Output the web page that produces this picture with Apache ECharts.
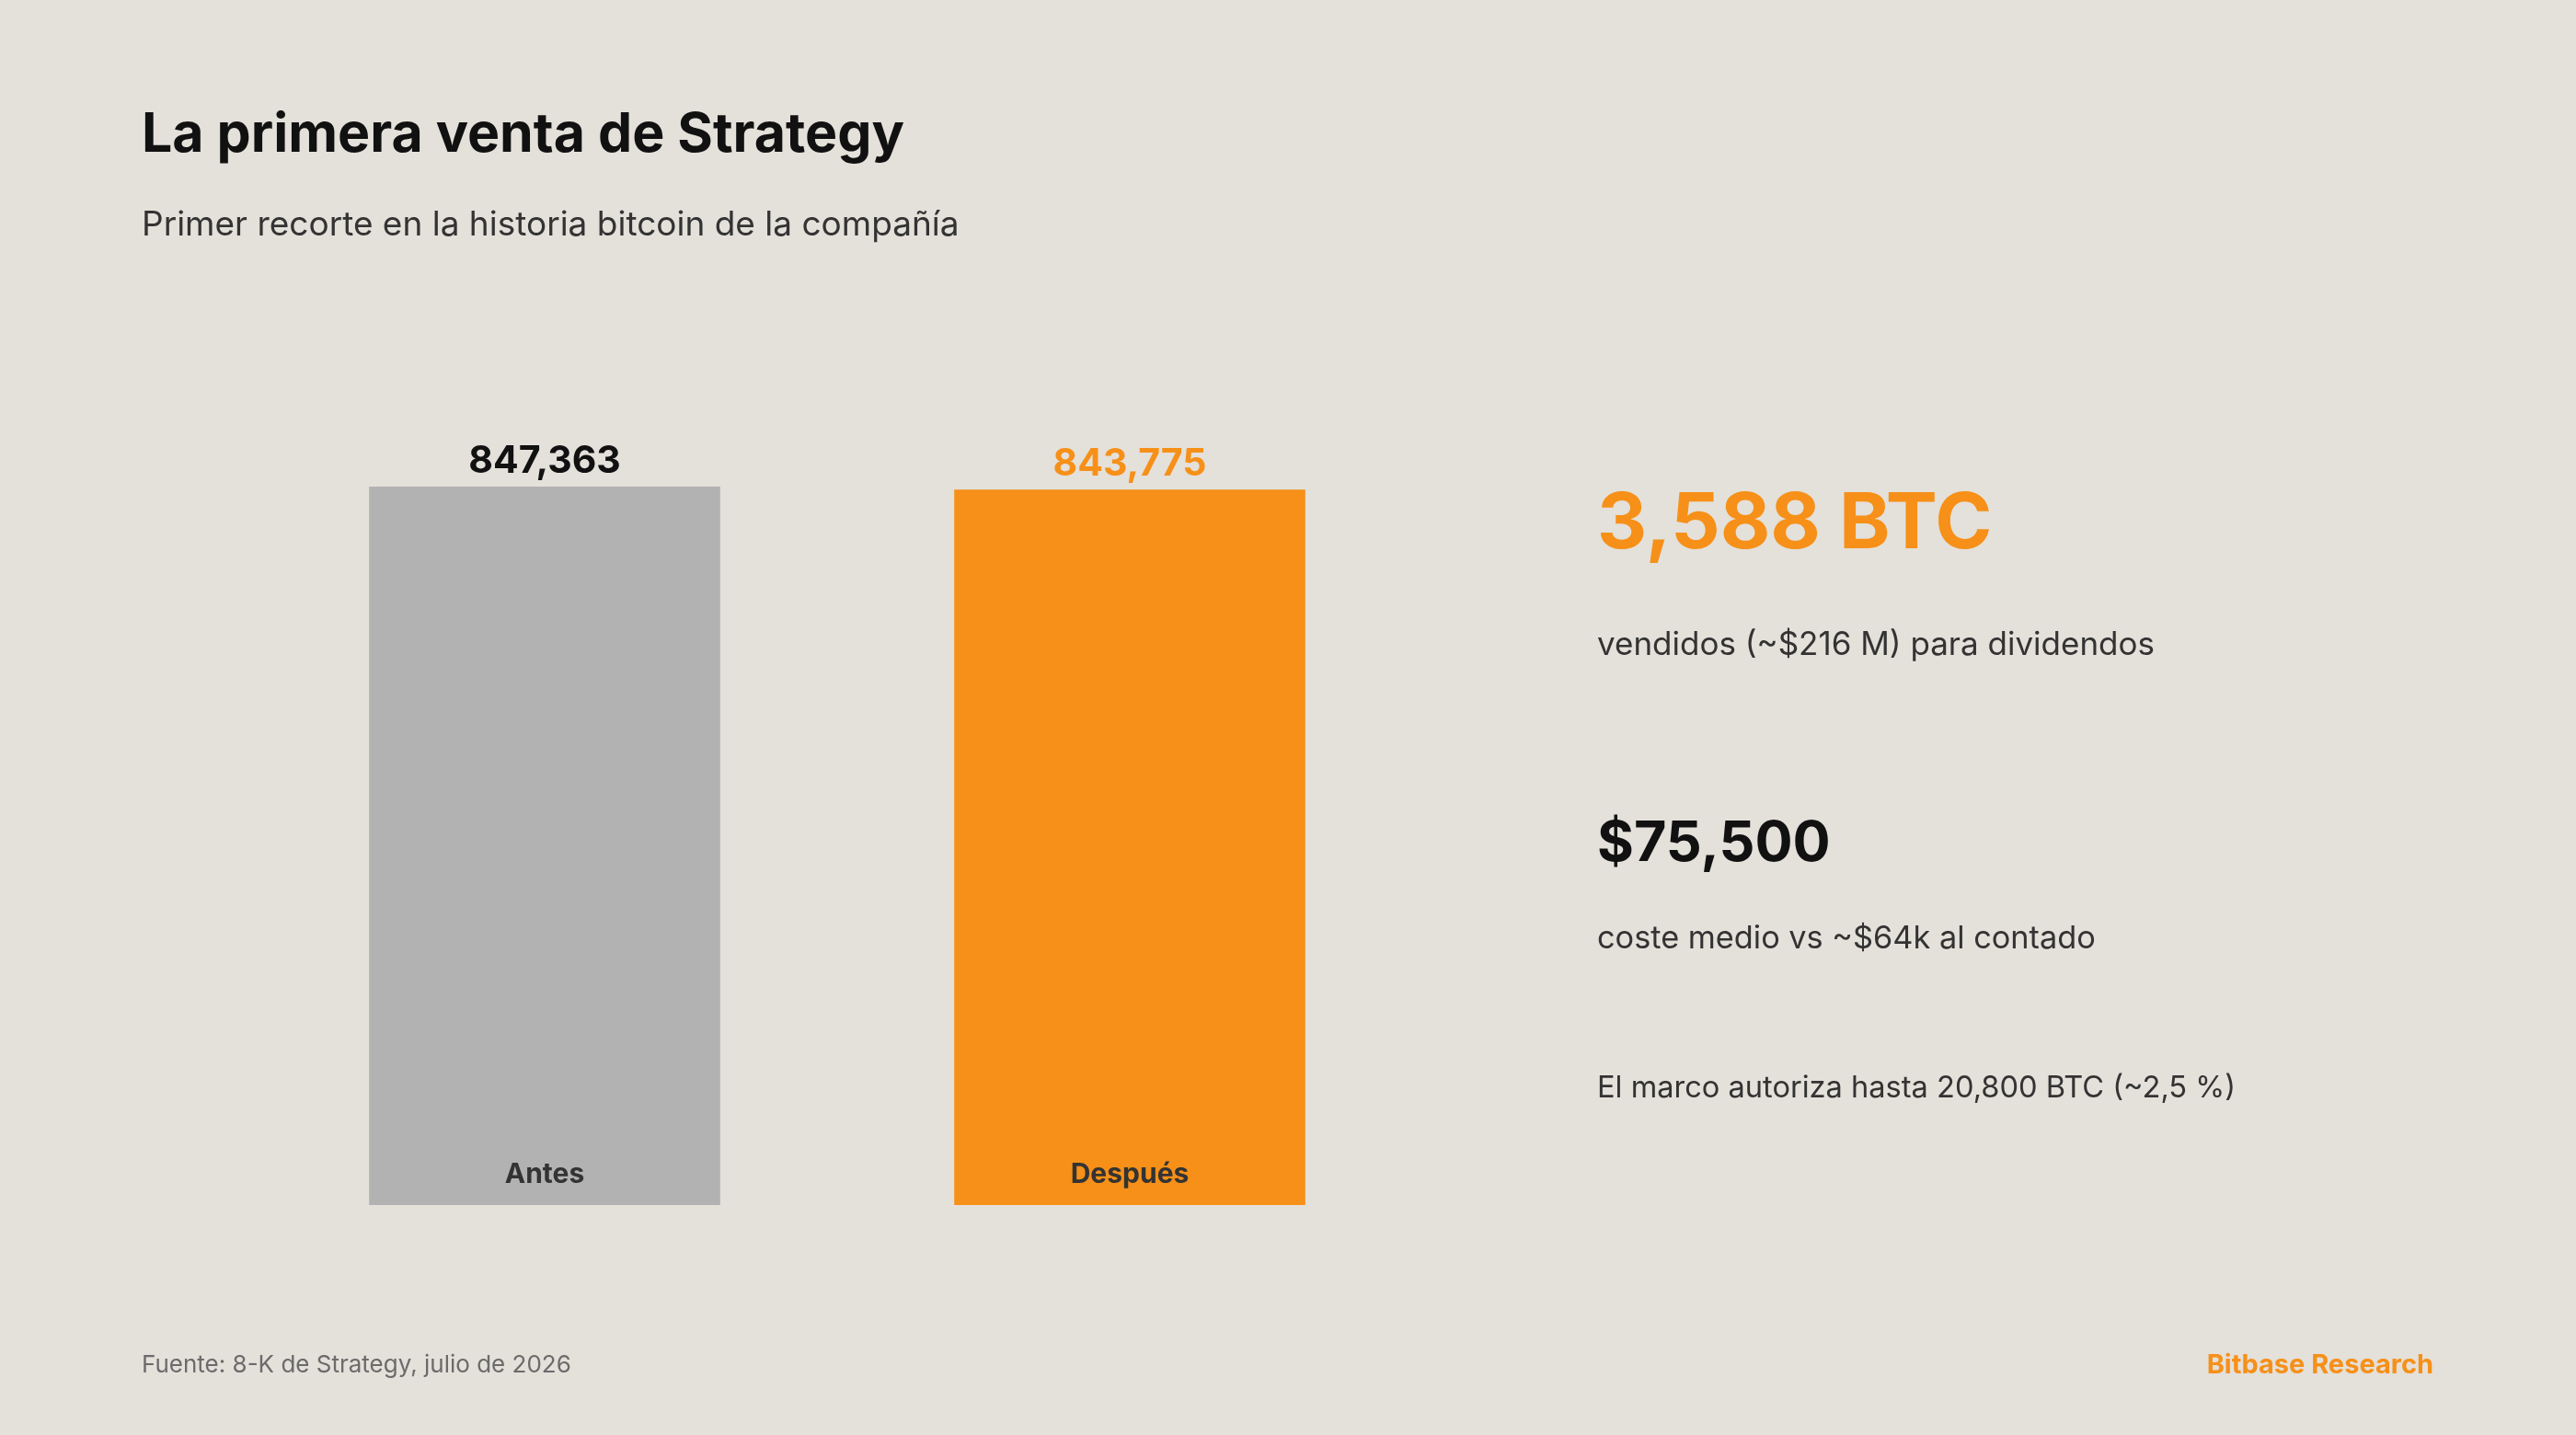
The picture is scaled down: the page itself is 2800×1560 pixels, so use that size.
<!DOCTYPE html>
<html>
<head>
<meta charset="utf-8">
<style>
  html, body { margin: 0; padding: 0; background: #E4E0DA; }
  #chart { width: 2800px; height: 1560px; }
</style>
<script src="https://cdn.jsdelivr.net/npm/echarts@6/dist/echarts.min.js"></script>
</head>
<body>
<div id="chart"></div>
<script>
const categories = ['Antes', 'Después'];
const holdings = [847363, 843775];
const barColors = ['#B2B2B2', '#F69018'];
const valueLabelColors = ['#111111', '#F69018'];
const yMax = 900000;

const FONT = 'Inter, "Noto Sans", sans-serif';

const chart = echarts.init(document.getElementById('chart'));

function txt(text, x, y, size, weight, color, align) {
  return {
    type: 'text',
    x: x, y: y,
    style: {
      text: text,
      font: weight + ' ' + size + 'px ' + FONT,
      fill: color,
      align: align || 'left',
      verticalAlign: 'middle'
    }
  };
}

chart.setOption({
  backgroundColor: '#E4E0DA',
  animation: false,
  grid: { left: 274, width: 1272, top: 480.5, bottom: 250, containLabel: false },
  xAxis: {
    type: 'category',
    data: categories,
    z: 10,
    axisLine: { show: false },
    axisTick: { show: false },
    axisLabel: {
      inside: true,
      margin: 18,
      fontFamily: FONT,
      fontWeight: 'bold',
      fontSize: 30,
      color: '#333333'
    }
  },
  yAxis: {
    type: 'value',
    min: 0,
    max: yMax,
    show: false,
    splitLine: { show: false }
  },
  series: [{
    type: 'bar',
    barWidth: '60%',
    data: holdings.map((v, i) => ({
      value: v,
      itemStyle: { color: barColors[i] },
      label: { color: valueLabelColors[i] }
    })),
    label: {
      show: true,
      position: 'top',
      distance: 7,
      fontFamily: FONT,
      fontWeight: 'bold',
      fontSize: 41,
      formatter: p => p.value.toLocaleString('en-US')
    }
  }],
  graphic: [
    txt('La primera venta de Strategy', 154, 147, 59, 'bold', '#111111'),
    txt('Primer recorte en la historia bitcoin de la compañía', 154, 245, 37, 'normal', '#333333'),
    txt('3,588 BTC', 1736, 571, 84, 'bold', '#F69018'),
    txt('vendidos (~$216 M) para dividendos', 1736, 701, 35, 'normal', '#333333'),
    txt('$75,500', 1736, 918, 61, 'bold', '#111111'),
    txt('coste medio vs ~$64k al contado', 1736, 1021, 34.3, 'normal', '#333333'),
    txt('El marco autoriza hasta 20,800 BTC (~2,5 %)', 1736, 1183, 32.6, 'normal', '#333333'),
    txt('Fuente: 8-K de Strategy, julio de 2026', 154, 1484, 26, 'normal', '#6B6B6B'),
    txt('Bitbase Research', 2645, 1484, 29, 'bold', '#F69018', 'right')
  ]
});
</script>
</body>
</html>
